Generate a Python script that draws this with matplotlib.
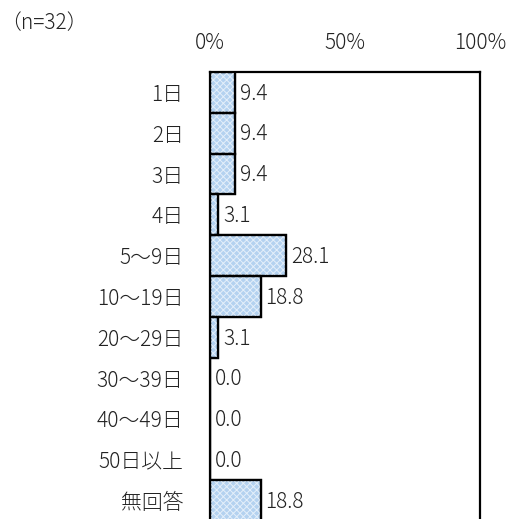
import numpy as np
import matplotlib
matplotlib.use('Agg')
import matplotlib.pyplot as plt

plt.rcParams['font.family'] = ['Noto Sans CJK JP', 'DejaVu Sans']
plt.rcParams['hatch.linewidth'] = 0.7

# DATA
categories = ['1日', '2日', '3日', '4日', '5～9日', '10～19日', '20～29日',
              '30～39日', '40～49日', '50日以上', '無回答']
values = [9.4, 9.4, 9.4, 3.1, 28.1, 18.8, 3.1, 0.0, 0.0, 0.0, 18.8]
xticks = [0, 50, 100]
xtick_labels = ['0%', '50%', '100%']

FS = 15
TXT = '#222222'

W, H = 511, 519
fig = plt.figure(figsize=(W / 100, H / 100), dpi=100)
ax = fig.add_axes([210 / W, (H - 521) / H, 270 / W, 449 / H])

y = np.arange(len(categories))
ax.barh(y, values, height=1.0, color='#b4d2f0', edgecolor='black', linewidth=1.6, zorder=2)
# crosshatch overlay
ax.barh(y, values, height=1.0, color='none', edgecolor='#e4effa', hatch='xxxxx', linewidth=0, zorder=3)
ax.barh(y, values, height=1.0, color='none', edgecolor='black', linewidth=1.6, zorder=4)

for yi, v in zip(y, values):
    ax.text(v + 1.8, yi + 0.03, f'{v:.1f}', va='center', ha='left', fontsize=FS,
            color=TXT, fontweight='light', zorder=5)

ax.set_xlim(0, 100)
ax.set_ylim(len(categories) - 0.5, -0.5)
ax.set_yticks(y)
ax.set_yticklabels(categories, fontsize=FS, color=TXT, fontweight='light')
ax.set_xticks(xticks)
ax.set_xticklabels(xtick_labels, fontsize=FS, color=TXT, fontweight='light')
ax.xaxis.tick_top()
ax.tick_params(axis='both', length=0)
ax.tick_params(axis='x', pad=13)
ax.tick_params(axis='y', pad=19)
for s in ax.spines.values():
    s.set_linewidth(1.6)
    s.set_color('black')

fig.text(0 / W, 1 - 23 / H, '（n=32）', fontsize=FS, va='center', ha='left',
         color=TXT, fontweight='light')

fig.savefig('out.png', dpi=100)
